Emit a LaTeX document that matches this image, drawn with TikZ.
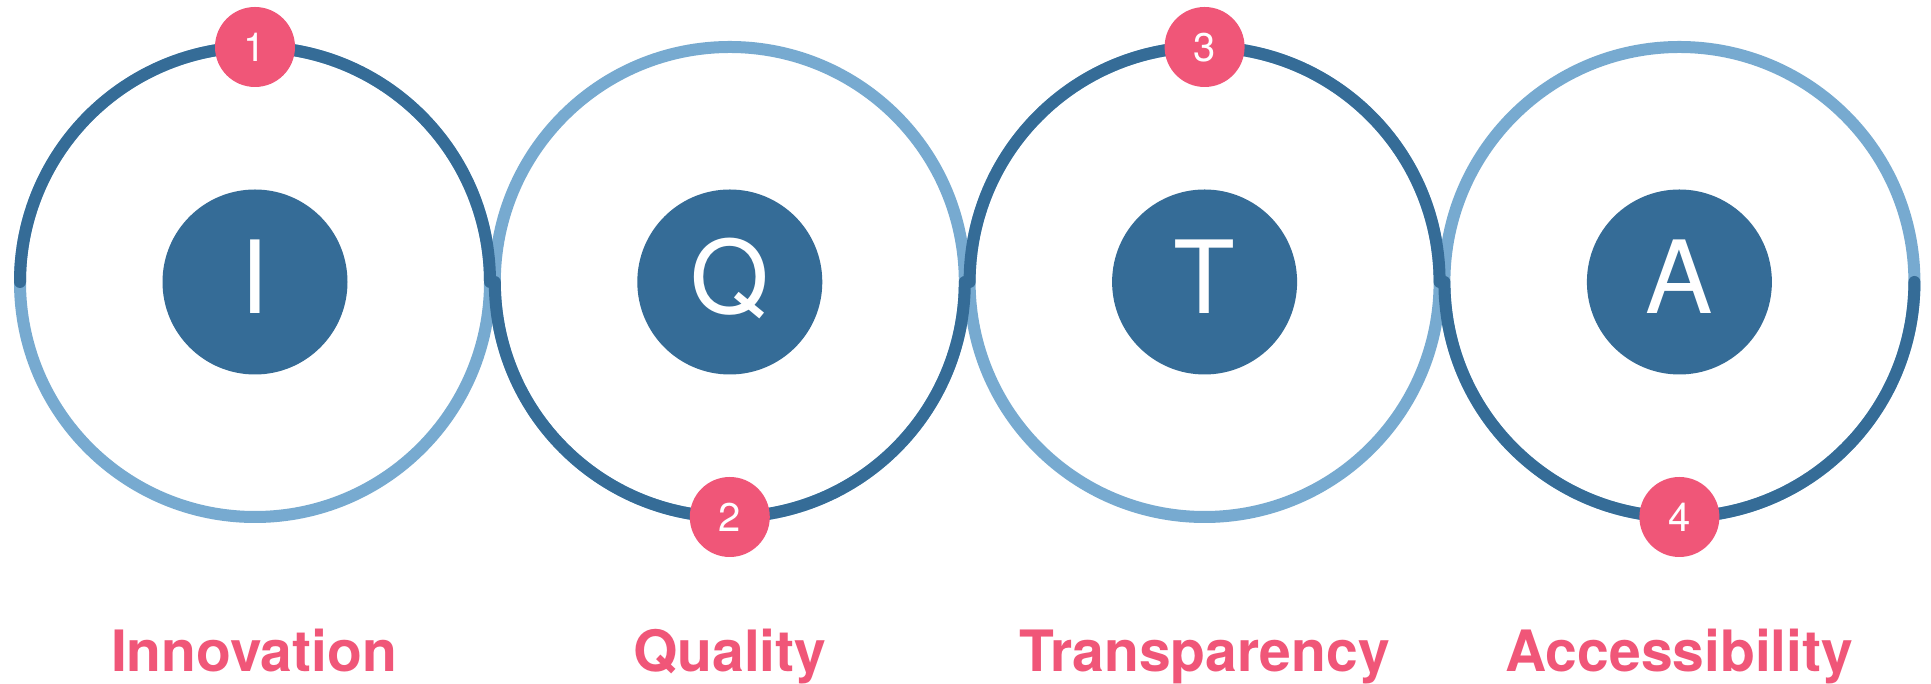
\documentclass[tikz,border=0pt]{standalone}
\usepackage{fontspec}
\setmainfont{TeX Gyre Heros}
\definecolor{darkb}{HTML}{356C97}
\definecolor{lightb}{HTML}{77AAD0}
\definecolor{pinkc}{HTML}{F05678}
\begin{document}
\begin{tikzpicture}[x=1pt,y=1pt,
  ringlight/.style={draw=lightb,line width=12pt},
  ringdark/.style={draw=darkb,line width=12pt,line cap=round},
  core/.style={circle,fill=darkb,minimum size=185pt,inner sep=0pt},
  badge/.style={circle,fill=pinkc,minimum size=80pt,inner sep=0pt},
  coreletter/.style={text=white,font=\fontsize{101}{101}\selectfont,anchor=base,inner sep=0pt},
  badgenum/.style={text=white,font=\fontsize{40}{40}\selectfont,anchor=base,inner sep=0pt},
  caption/.style={text=pinkc,font=\bfseries\fontsize{57}{57}\selectfont,anchor=base,inner sep=0pt}]
\useasboundingbox (0,0) rectangle (1931,684);
\fill[white] (0,0) rectangle (1931,684);
\def\R{235}
\coordinate (c1) at (255,402);
\coordinate (c2) at (729.8,402);
\coordinate (c3) at (1204.6,402);
\coordinate (c4) at (1679.4,402);
% light rings
\draw[ringlight] (c1) circle[radius=\R];
\draw[ringlight] (c2) circle[radius=\R];
\draw[ringlight] (c3) circle[radius=\R];
\draw[ringlight] (c4) circle[radius=\R];
% dark halves
\draw[ringdark] ([shift={(180:\R)}]c1) arc[start angle=180,end angle=0,radius=\R];
\draw[ringdark] ([shift={(180:\R)}]c2) arc[start angle=180,end angle=360,radius=\R];
\draw[ringdark] ([shift={(180:\R)}]c3) arc[start angle=180,end angle=0,radius=\R];
\draw[ringdark] ([shift={(180:\R)}]c4) arc[start angle=180,end angle=360,radius=\R];
% cores
\node[core] (k1) at (c1) {};
\node[core] (k2) at (c2) {};
\node[core] (k3) at (c3) {};
\node[core] (k4) at (c4) {};
\node[coreletter] (l1) at ([yshift=-31.5]c1) {I};
\node[coreletter] (l2) at ([yshift=-31.5]c2) {Q};
\node[coreletter] (l3) at ([yshift=-31.5]c3) {T};
\node[coreletter] (l4) at ([yshift=-31.5]c4) {A};
% badges
\node[badge] (b1) at ([yshift=\R]c1) {};
\node[badge] (b2) at ([yshift=-\R]c2) {};
\node[badge] (b3) at ([yshift=\R]c3) {};
\node[badge] (b4) at ([yshift=-\R]c4) {};
\node[badgenum] (n1) at ([yshift=-15]b1.center) {1};
\node[badgenum] (n2) at ([yshift=-15]b2.center) {2};
\node[badgenum] (n3) at ([yshift=-15]b3.center) {3};
\node[badgenum] (n4) at ([yshift=-15]b4.center) {4};
% captions
\node[caption] (t1) at (254,12) {Innovation};
\node[caption] (t2) at (729.8,12) {Quality};
\node[caption] (t3) at (1204.6,12) {Transparency};
\node[caption] (t4) at (1679.4,12) {Accessibility};
\end{tikzpicture}
\end{document}
